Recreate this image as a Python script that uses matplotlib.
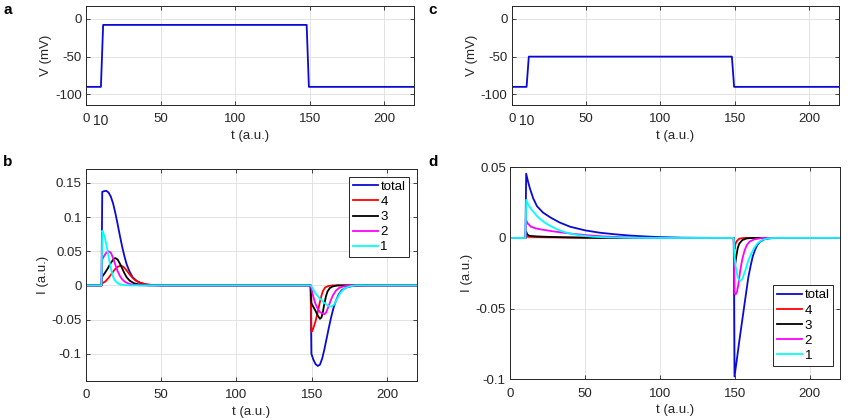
import matplotlib
matplotlib.use("Agg")
import matplotlib.pyplot as plt
import matplotlib.transforms as mtransforms

plt.rcParams["font.family"] = ["Liberation Sans", "DejaVu Sans"]
plt.rcParams["font.size"] = 9.5

#######################################################
# DATA

# voltage protocol (a, c)
v_t = [0, 10, 11.5, 148, 149.5, 220]
v_a = [-90, -90, -8, -8, -90, -90]
v_c = [-90, -90, -50, -50, -90, -90]

# panel b currents
b_total_t = [0, 10.3, 10.8, 12, 13.5, 15, 16.5, 18, 19.5, 21, 22.5, 24, 25.5, 27, 29, 31, 34, 37, 41, 46, 52,
             149.3, 149.8, 151, 152.5, 154, 155.5, 157, 158.5, 160, 161.5, 163, 164.5, 166, 168, 170, 173, 177, 183, 188, 220]
b_total_i = [0, 0, 0.137, 0.138, 0.1385, 0.136, 0.130, 0.120, 0.106, 0.090, 0.073, 0.057, 0.043, 0.031, 0.020, 0.012, 0.006, 0.003, 0.001, 0.0003, 0,
             0, -0.100, -0.108, -0.115, -0.118, -0.116, -0.107, -0.093, -0.077, -0.061, -0.046, -0.033, -0.023, -0.013, -0.007, -0.003, -0.001, -0.0002, 0, 0]

b_4_t = [0, 10.3, 10.8, 13, 15, 17, 19, 21, 23, 25, 27, 29, 31, 33, 36, 40, 45, 50,
         149.3, 149.8, 150.5, 151.5, 152.5, 153.5, 154.5, 155.5, 156.5, 157.5, 159, 161, 164, 220]
b_4_i = [0, 0, 0.003, 0.006, 0.011, 0.017, 0.023, 0.027, 0.029, 0.027, 0.022, 0.016, 0.011, 0.007, 0.004, 0.0015, 0.0005, 0,
         0, -0.068, -0.066, -0.060, -0.053, -0.044, -0.034, -0.024, -0.015, -0.008, -0.003, -0.001, 0, 0]

b_3_t = [0, 10.3, 10.8, 12.5, 14.5, 16.5, 18.5, 19.5, 21, 22.5, 24, 25.5, 27, 29, 32, 36, 42,
         149.3, 149.8, 151, 152.5, 154, 155.5, 156.5, 157.5, 158.5, 159.5, 160.5, 162, 164, 167, 220]
b_3_i = [0, 0, 0.013, 0.018, 0.025, 0.033, 0.039, 0.040, 0.038, 0.032, 0.025, 0.018, 0.012, 0.007, 0.003, 0.001, 0,
         0, -0.026, -0.031, -0.037, -0.044, -0.049, -0.047, -0.038, -0.026, -0.016, -0.009, -0.004, -0.0015, 0, 0]

b_2_t = [0, 10.3, 10.8, 12, 13.5, 15, 16.5, 18, 19.5, 21, 22.5, 24, 26, 29, 33, 38,
         149.3, 149.8, 151, 152.5, 154, 155.5, 157, 158.5, 159.5, 161, 162.5, 164, 166, 168, 171, 175, 220]
b_2_i = [0, 0, 0.038, 0.043, 0.048, 0.050, 0.048, 0.040, 0.030, 0.021, 0.014, 0.009, 0.005, 0.002, 0.0005, 0,
         0, -0.005, -0.016, -0.027, -0.034, -0.039, -0.041, -0.042, -0.040, -0.032, -0.023, -0.015, -0.008, -0.004, -0.0015, 0, 0]

b_1_t = [0, 10.3, 10.8, 11.5, 12.5, 13.5, 14.5, 15.5, 16.5, 17.5, 18.5, 20, 22, 25, 30,
         149.3, 149.8, 150.5, 152, 155, 158, 161, 163, 165, 167, 169, 172, 176, 180, 220]
b_1_i = [0, 0, 0.080, 0.077, 0.070, 0.060, 0.048, 0.036, 0.025, 0.016, 0.010, 0.005, 0.002, 0.0005, 0,
         0, -0.001, -0.004, -0.010, -0.018, -0.025, -0.030, -0.031, -0.028, -0.019, -0.011, -0.004, -0.001, 0, 0]

# panel d currents
d_total_t = [0, 10.3, 10.8, 12, 13.3, 15.5, 18, 22, 27, 33, 40, 50, 60, 70, 80, 90, 100, 115, 130, 140,
             149.3, 149.8, 151, 153, 155, 157, 159, 160.5, 162, 163.5, 165, 167, 170, 174, 178, 220]
d_total_i = [0, 0, 0.0455, 0.040, 0.035, 0.028, 0.0225, 0.018, 0.0145, 0.011, 0.008, 0.0054, 0.0037, 0.0026, 0.0017, 0.0011, 0.0006, 0.0002, 0.0001, 0,
             0, -0.098, -0.089, -0.073, -0.058, -0.043, -0.028, -0.020, -0.013, -0.0085, -0.005, -0.0025, -0.0008, -0.0002, 0, 0]

d_4_t = [0, 10.3, 10.8, 15, 25, 40, 60, 80,
         149.3, 149.8, 150.5, 151.5, 153, 156, 220]
d_4_i = [0, 0, 0.0009, 0.0007, 0.0005, 0.0003, 0.0001, 0,
         0, -0.008, -0.004, -0.002, -0.0005, 0, 0]

d_3_t = [0, 10.3, 10.8, 11.5, 13, 18, 25, 35, 50, 70,
         149.3, 149.8, 150.2, 151, 152, 153, 155, 158, 162, 220]
d_3_i = [0, 0, 0.0045, 0.0025, 0.0015, 0.0011, 0.0008, 0.0005, 0.0002, 0,
         0, -0.021, -0.019, -0.013, -0.007, -0.004, -0.0015, -0.0003, 0, 0]

d_2_t = [0, 10.3, 10.8, 12, 14, 17, 22, 28, 35, 43, 52, 62, 75, 90, 110,
         149.3, 149.8, 150.5, 151.5, 152.5, 153.5, 155, 156.5, 158, 160, 163, 168, 220]
d_2_i = [0, 0, 0.0125, 0.010, 0.008, 0.0068, 0.0058, 0.0048, 0.0038, 0.0028, 0.0019, 0.0011, 0.0005, 0.0002, 0,
         0, -0.039, -0.040, -0.038, -0.032, -0.024, -0.015, -0.009, -0.005, -0.0025, -0.001, 0, 0]

d_1_t = [0, 10.3, 10.8, 12, 14, 16, 18, 20, 23, 27, 32, 38, 45, 55, 65, 80, 95,
         149.3, 149.8, 150.5, 152, 153.5, 155, 157, 159, 161, 163, 165, 168, 172, 176, 220]
d_1_i = [0, 0, 0.027, 0.024, 0.0205, 0.018, 0.0155, 0.0135, 0.011, 0.0085, 0.0058, 0.0036, 0.0021, 0.0009, 0.0004, 0.0001, 0,
         0, -0.012, -0.020, -0.028, -0.0305, -0.029, -0.023, -0.016, -0.011, -0.007, -0.004, -0.0015, -0.0003, 0, 0]

labels = ["total", "4", "3", "2", "1"]
colors = ["#0a0ad2", "#ff0000", "#000000", "#ff00ff", "#00ffff"]

#######################################################
# FIGURE

W, H = 848, 418
fig = plt.figure(figsize=(W / 100, H / 100), dpi=100)

FS = 9.5


def box(l, r, t, b):
    return [l / W, 1 - b / H, (r - l) / W, (b - t) / H]


def style(ax):
    ax.grid(True, color="#e3e3e3", lw=0.7)
    ax.set_axisbelow(True)
    ax.tick_params(direction="in", length=3, width=0.6, top=True, right=True,
                   colors="#262626", labelsize=FS)
    ax.tick_params(axis="x", pad=6)
    ax.tick_params(axis="y", pad=3)
    for s in ax.spines.values():
        s.set_color("#262626")
        s.set_linewidth(0.7)
    ax.set_xlim(0, 220)
    ax.set_xticks([0, 50, 100, 150, 200])
    ax.set_xlabel("t (a.u.)", fontsize=FS, labelpad=3, color="#262626")


ax_a = fig.add_axes(box(86, 414, 6, 105))
ax_c = fig.add_axes(box(511.7, 839, 6, 105))
ax_b = fig.add_axes(box(86, 417, 169.3, 381))
ax_d = fig.add_axes(box(510, 839.7, 167.3, 379.3))

# voltage panels
for ax, v in [(ax_a, v_a), (ax_c, v_c)]:
    style(ax)
    ax.plot(v_t, v, color=colors[0], lw=1.3)
    ax.set_ylim(-114, 17)
    ax.set_yticks([-100, -50, 0])
    ax.set_yticklabels(["-100", "-50", "0"])
    ax.set_ylabel("V (mV)", fontsize=FS, labelpad=2, color="#262626")
    trans = mtransforms.blended_transform_factory(ax.transData, ax.transAxes)
    ax.text(10, -0.165, "10", transform=trans, ha="center", va="center",
            fontsize=FS + 0.5, color="#262626")

# current panels
b_series = [(b_total_t, b_total_i), (b_4_t, b_4_i), (b_3_t, b_3_i), (b_2_t, b_2_i), (b_1_t, b_1_i)]
d_series = [(d_total_t, d_total_i), (d_4_t, d_4_i), (d_3_t, d_3_i), (d_2_t, d_2_i), (d_1_t, d_1_i)]

for ax, series in [(ax_b, b_series), (ax_d, d_series)]:
    style(ax)
    for (t, i), lab, col in zip(series, labels, colors):
        ax.plot(t, i, color=col, lw=1.3, label=lab)
    ax.set_ylabel("I (a.u.)", fontsize=FS, labelpad=2, color="#262626")

ax_b.set_ylim(-0.14, 0.17)
ax_b.set_yticks([-0.1, -0.05, 0, 0.05, 0.1, 0.15])
ax_b.set_yticklabels(["-0.1", "-0.05", "0", "0.05", "0.1", "0.15"])

ax_d.set_ylim(-0.1, 0.05)
ax_d.set_yticks([-0.1, -0.05, 0, 0.05])
ax_d.set_yticklabels(["-0.1", "-0.05", "0", "0.05"])

leg_kw = dict(fancybox=False, framealpha=1, edgecolor="#262626", fontsize=FS,
              handlelength=1.9, handletextpad=0.15, labelspacing=0.22,
              borderpad=0.3, borderaxespad=0)
lb = ax_b.legend(loc="upper right", bbox_to_anchor=(0.977, 0.965), **leg_kw)
ld = ax_d.legend(loc="lower right", bbox_to_anchor=(0.981, 0.063), **leg_kw)
for lg in (lb, ld):
    lg.get_frame().set_linewidth(0.7)

# panel letters
for x, y, s in [(3, 10, "a"), (3, 162, "b"), (428, 10, "c"), (428, 162, "d")]:
    fig.text(x / W, 1 - y / H, s, fontsize=11, fontweight="bold", va="center", ha="left")

fig.savefig("out.png", dpi=100)
